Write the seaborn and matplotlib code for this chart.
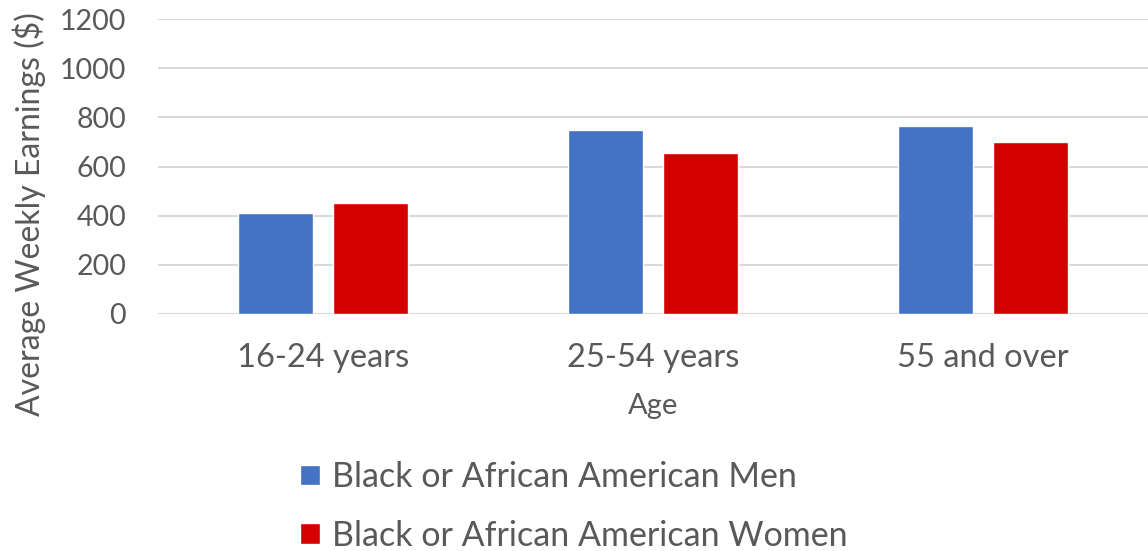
import matplotlib
matplotlib.use("Agg")
import matplotlib.pyplot as plt
import pandas as pd
import seaborn as sns

# Average weekly earnings by age group
age_groups = ["16-24 years", "25-54 years", "55 and over"]
men_earnings = [411, 747, 764]
women_earnings = [451, 654, 700]
series_names = ["Black or African American Men", "Black or African American Women"]
y_ticks = [0, 200, 400, 600, 800, 1000, 1200]

df = pd.DataFrame({
    "Age": age_groups * 2,
    "Earnings": men_earnings + women_earnings,
    "Group": [series_names[0]] * 3 + [series_names[1]] * 3,
})

sns.set_theme(style="white")
plt.rcParams["font.family"] = ["Lato", "DejaVu Sans"]
TEXT = "#595959"

W, H = 1148, 551
fig = plt.figure(figsize=(W / 100, H / 100), dpi=100)
ax = fig.add_axes([158 / W, 1 - 314 / H, 1 - 158 / W, (314 - 19) / H])

sns.barplot(
    data=df, x="Age", y="Earnings", hue="Group",
    order=age_groups, hue_order=series_names,
    palette=["#4472C4", "#D40000"],
    width=0.576, gap=0.22, saturation=1, ax=ax,
)

ax.set_xlim(-0.5, 2.5)
ax.set_ylim(0, 1200)
ax.set_yticks(y_ticks)
ax.set_yticklabels([str(v) for v in y_ticks])
ax.yaxis.grid(True, color="#D9D9D9", linewidth=1.5)
ax.set_axisbelow(True)
for s in ax.spines.values():
    s.set_visible(False)

ax.tick_params(axis="y", length=0, pad=23, labelsize=20.5, labelcolor=TEXT)
ax.tick_params(axis="x", length=0, pad=21, labelsize=23.5, labelcolor=TEXT)

ax.set_xlabel("Age", fontsize=21, color=TEXT)
ax.xaxis.set_label_coords(0.5, -(393 - 314) / 295)
ax.set_ylabel("Average Weekly Earnings ($)", fontsize=23, color=TEXT)
ax.yaxis.set_label_coords(-(158 - 46) / 990, (314 - 214) / 295)

handles, labels = ax.get_legend_handles_labels()
ax.get_legend().remove()
fig.legend(
    handles, labels, loc="upper left",
    bbox_to_anchor=(300 / W, 1 - 461 / H),
    frameon=False, fontsize=24.5, labelcolor=TEXT,
    handlelength=0.59, handleheight=0.54, handletextpad=0.36,
    labelspacing=0.78, borderpad=0, borderaxespad=0,
)

fig.savefig("out.png", dpi=100, facecolor="white")
